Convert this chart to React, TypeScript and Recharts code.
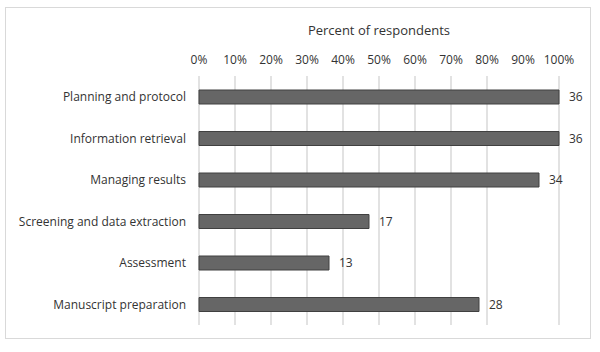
import React from 'react';
import { BarChart, Bar, XAxis, YAxis, CartesianGrid, LabelList } from 'recharts';

// survey stages, top to bottom
const stages = [
  'Planning and protocol',
  'Information retrieval',
  'Managing results',
  'Screening and data extraction',
  'Assessment',
  'Manuscript preparation'
];
// number of respondents per stage
const counts = [36, 36, 34, 17, 13, 28];
const totalRespondents = 36;
const percentTicks = [0, 10, 20, 30, 40, 50, 60, 70, 80, 90, 100];

const data = stages.map((name, i) => ({
  name,
  count: counts[i],
  percent: (counts[i] / totalRespondents) * 100
}));

const font = '"Open Sans", sans-serif';
const textColor = '#333333';

export default function App() {
  return <div style={{
    position: 'absolute',
    left: 0,
    top: 0,
    width: 600,
    height: 352,
    background: '#fff',
    fontFamily: font
  }}>
      <div style={{
      position: 'absolute',
      left: 5,
      top: 7,
      width: 586,
      height: 332,
      border: '1px solid #d9d9d9',
      boxSizing: 'border-box'
    }} />
      <BarChart width={600} height={352} data={data} layout="vertical" margin={{
      top: 26,
      right: 41,
      bottom: 27,
      left: 0
    }} style={{
      position: 'absolute',
      left: 0,
      top: 0
    }}>
        <CartesianGrid horizontal={false} stroke="#d9d9d9" strokeWidth={1.5} />
        <XAxis type="number" orientation="top" domain={[0, 100]} ticks={percentTicks} tickFormatter={v => `${v}%`} axisLine={false} tickLine={false} tickSize={0} tickMargin={12} height={50} tick={{
        fill: textColor,
        fontSize: 12,
        fontFamily: font
      }} label={{
        value: 'Percent of respondents',
        position: 'insideTop',
        offset: 0,
        fill: textColor,
        fontSize: 13,
        fontFamily: font
      }} />
        <YAxis type="category" dataKey="name" width={199} axisLine={false} tickLine={false} tickSize={0} tickMargin={13} tick={{
        fill: textColor,
        fontSize: 12,
        fontFamily: font
      }} />
        <Bar dataKey="percent" fill="#666666" stroke="#404040" strokeWidth={1} barSize={14} isAnimationActive={false}>
          <LabelList dataKey="count" position="right" offset={10} fill={textColor} fontSize={12} fontFamily={font} />
        </Bar>
      </BarChart>
    </div>;
}
